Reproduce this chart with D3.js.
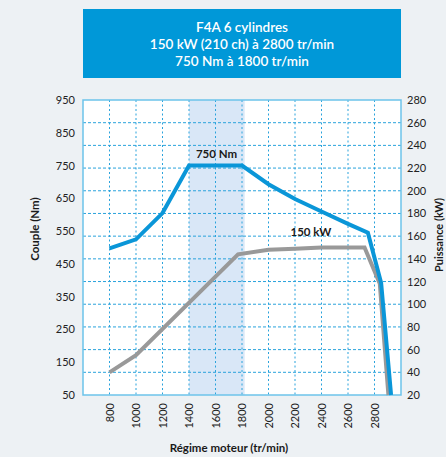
<!DOCTYPE html>
<html>
<head>
<meta charset="utf-8">
<script src="https://cdn.jsdelivr.net/npm/d3@7"></script>
<style>
  body { margin: 0; background: #edf1f4; }
  svg { display: block; font-family: Lato, "Open Sans", sans-serif; }
</style>
</head>
<body>
<svg id="chart"></svg>
<script>
// torque curve (Nm, left axis)
const torqueRpm = [800, 1000, 1200, 1400, 1800, 2000, 2200, 2400, 2600, 2750, 2850, 2925];
const torqueNm = [497, 525, 605, 750, 750, 693, 648, 610, 572, 545, 392, 50];
// power curve (kW, right axis)
const powerRpm = [800, 1000, 1770, 2000, 2200, 2400, 2600, 2725, 2840, 2905];
const powerKw = [40, 55, 144, 148, 149, 150, 150, 150, 118, 20];

const xTicks = [800, 1000, 1200, 1400, 1600, 1800, 2000, 2200, 2400, 2600, 2800];
const leftTicks = [50, 150, 250, 350, 450, 550, 650, 750, 850, 950];
const rightTicks = [20, 40, 60, 80, 100, 120, 140, 160, 180, 200, 220, 240, 260, 280];
const band = [1400, 1820];

const titleLines = ['F4A 6 cylindres', '150 kW (210 ch) à 2800 tr/min', '750 Nm à 1800 tr/min'];

const width = 446, height = 457;
const marginLeft = 83, marginRight = 45, marginTop = 100, marginBottom = 62;

const svg = d3.select('#chart')
    .attr('width', width)
    .attr('height', height)
    .attr('viewBox', [0, 0, width, height]);

const x = d3.scaleLinear([600, 3000], [marginLeft, width - marginRight]);
const yL = d3.scaleLinear([50, 950], [height - marginBottom, marginTop]);
const yR = d3.scaleLinear([20, 280], [height - marginBottom, marginTop]);

// title box
svg.append('rect')
    .attr('x', marginLeft).attr('y', 9)
    .attr('width', width - marginRight - marginLeft).attr('height', 69)
    .attr('fill', '#0098d8');
svg.append('g')
    .selectAll('text')
    .data(titleLines)
    .join('text')
        .attr('x', (marginLeft + width - marginRight) / 2)
        .attr('y', (d, i) => 32 + i * 16.8)
        .attr('text-anchor', 'middle')
        .attr('fill', '#fff')
        .attr('font-size', 13.5)
        .attr('font-weight', 600)
        .text(d => d);

// plot background
svg.append('rect')
    .attr('x', marginLeft).attr('y', marginTop)
    .attr('width', x.range()[1] - marginLeft).attr('height', yL.range()[0] - marginTop)
    .attr('fill', '#fff');

// shaded band
svg.append('rect')
    .attr('x', x(band[0])).attr('y', marginTop)
    .attr('width', x(band[1]) - x(band[0])).attr('height', yL.range()[0] - marginTop)
    .attr('fill', '#d9e7f7');

// grid
const grid = svg.append('g')
    .attr('stroke', '#2aa3dc')
    .attr('stroke-width', 1)
    .attr('stroke-dasharray', '3,2');
grid.selectAll('.hg')
    .data(rightTicks.slice(1, -1))
    .join('line')
        .attr('x1', marginLeft).attr('x2', x.range()[1])
        .attr('y1', d => yR(d)).attr('y2', d => yR(d));
grid.selectAll('.vg')
    .data(xTicks)
    .join('line')
        .attr('stroke-dasharray', '2,2.5')
        .attr('x1', d => x(d)).attr('x2', d => x(d))
        .attr('y1', marginTop).attr('y2', yL.range()[0]);

// border
svg.append('rect')
    .attr('x', marginLeft).attr('y', marginTop)
    .attr('width', x.range()[1] - marginLeft).attr('height', yL.range()[0] - marginTop)
    .attr('fill', 'none')
    .attr('stroke', '#6cc3ea')
    .attr('stroke-width', 1.5);

// curves
const powerLine = d3.line().x(d => x(d[0])).y(d => yR(d[1]));
const torqueLine = d3.line().x(d => x(d[0])).y(d => yL(d[1]));

svg.append('path')
    .attr('d', powerLine(d3.zip(powerRpm, powerKw)))
    .attr('fill', 'none')
    .attr('stroke', '#999')
    .attr('stroke-width', 4);
svg.append('path')
    .attr('d', torqueLine(d3.zip(torqueRpm, torqueNm)))
    .attr('fill', 'none')
    .attr('stroke', '#0a96d8')
    .attr('stroke-width', 4);

// curve labels
svg.append('text')
    .attr('x', x(1600) + 1).attr('y', yL(750) - 8)
    .attr('text-anchor', 'middle')
    .attr('font-size', 11.5).attr('font-weight', 'bold').attr('fill', '#1a1a1a')
    .text('750 Nm');
svg.append('text')
    .attr('x', x(2320)).attr('y', yR(150) - 12)
    .attr('text-anchor', 'middle')
    .attr('font-size', 11.5).attr('font-weight', 'bold').attr('fill', '#1a1a1a')
    .text('150 kW');

// axes
const leftAxis = d3.axisLeft(yL).tickValues(leftTicks).tickSize(0).tickPadding(8);
svg.append('g')
    .attr('transform', `translate(${marginLeft},0)`)
    .call(leftAxis)
    .call(g => g.select('.domain').remove())
    .call(g => g.selectAll('text').attr('font-size', 11).attr('fill', '#222').attr('font-family', 'Lato'));

const rightAxis = d3.axisRight(yR).tickValues(rightTicks).tickSize(0).tickPadding(6);
svg.append('g')
    .attr('transform', `translate(${x.range()[1]},0)`)
    .call(rightAxis)
    .call(g => g.select('.domain').remove())
    .call(g => g.selectAll('text').attr('font-size', 11).attr('fill', '#222').attr('font-family', 'Lato'));

const xAxis = d3.axisBottom(x).tickValues(xTicks).tickSize(0).tickFormat(d3.format('d'));
svg.append('g')
    .attr('transform', `translate(0,${yL.range()[0]})`)
    .call(xAxis)
    .call(g => g.select('.domain').remove())
    .call(g => g.selectAll('text')
        .attr('font-size', 11).attr('fill', '#222').attr('font-family', 'Lato')
        .attr('transform', 'rotate(-90)')
        .attr('text-anchor', 'end')
        .attr('x', -8).attr('y', 0).attr('dy', '0.35em'));

// axis titles
svg.append('text')
    .attr('x', 229).attr('y', 452)
    .attr('text-anchor', 'middle')
    .attr('font-size', 11.5).attr('font-weight', 'bold').attr('fill', '#1a1a1a')
    .text('Régime moteur (tr/min)');
svg.append('text')
    .attr('transform', 'translate(39,229) rotate(-90)')
    .attr('text-anchor', 'middle')
    .attr('font-size', 11.5).attr('font-weight', 'bold').attr('fill', '#1a1a1a')
    .text('Couple (Nm)');
svg.append('text')
    .attr('transform', 'translate(442.5,235) rotate(-90)')
    .attr('text-anchor', 'middle')
    .attr('font-size', 11).attr('font-weight', 'bold').attr('fill', '#1a1a1a')
    .text('Puissance (kW)');
</script>
</body>
</html>
